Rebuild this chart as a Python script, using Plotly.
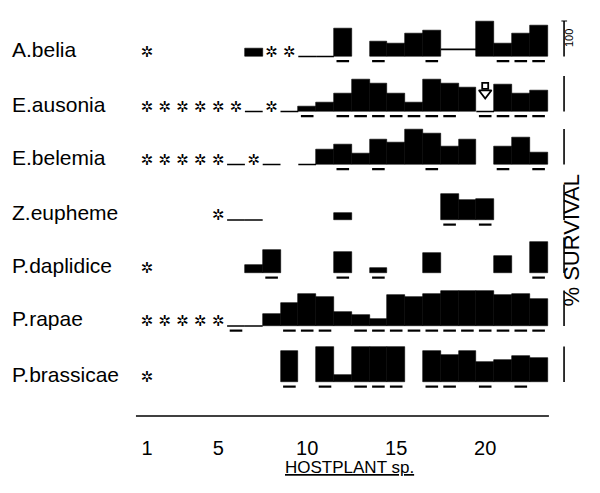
import plotly.graph_objects as go

# ---------------- data ----------------
hostplants = list(range(1, 24))
species = ["A.belia", "E.ausonia", "E.belemia", "Z.eupheme", "P.daplidice", "P.rapae", "P.brassicae"]
x_ticks = [1, 5, 10, 15, 20]

# % survival per hostplant 1..23 (None = not tested / blank, 0 = no survival)
abelia = [None, None, None, None, None, None, 22, None, None, 0, 0, 80, None, 43, 38, 64, 73, None, None, 100, 36, 64, 86]
eausonia = [None] * 6 + [0, None, 0, 14, 24, 52, 89, 79, 50, 24, 89, 79, 67, 0, 76, 50, 60]
ebelemia = [None] * 5 + [0, None, 0, None, 0, 43, 55, 31, 71, 62, 100, 87, 52, 71, None, 50, 77, 34]
zeupheme = [None] * 5 + [0, 0, None, None, None, None, 21, None, None, None, None, None, 74, 55, 59, None, None, None]
pdaplidice = [None] * 6 + [22, 65, None, None, None, 60, None, 15, None, None, 55, None, None, None, 48, None, 86]
prapae = [None] * 5 + [0, 0, 33, 65, 89, 83, 40, 31, 20, 86, 83, 89, 100, 100, 100, 86, 89, 77]
pbrassicae = [None] * 8 + [86, None, 100, 19, 98, 100, 98, None, 86, 76, 86, 57, 62, 73, 67]

# hostplants marked with an asterisk
abelia_stars = [1, 8, 9]
eausonia_stars = [1, 2, 3, 4, 5, 6, 8]
ebelemia_stars = [1, 2, 3, 4, 5, 7]
zeupheme_stars = [5]
pdaplidice_stars = [1]
prapae_stars = [1, 2, 3, 4, 5]
pbrassicae_stars = [1]

# hostplants underlined with a dash
abelia_dash = [12, 14, 17, 21, 22, 23]
eausonia_dash = [10, 12, 13, 14, 15, 16, 17, 18, 20, 21, 22, 23]
ebelemia_dash = [12, 14, 17, 21, 23]
zeupheme_dash = [18, 20]
pdaplidice_dash = [8, 12, 14, 23]
prapae_dash = [6, 9, 10, 11, 13, 14, 15, 16, 17, 18, 19, 20, 21, 22, 23]
pbrassicae_dash = [9, 11, 13, 14, 15, 17, 18, 20, 22]

# A.belia outline-only level on hostplants 18-19
abelia_open_x = [18, 19]
abelia_open_level = 20
# E.ausonia arrow marker
eausonia_arrow_x = [20]
eausonia_arrow_level = 52

rows = [
    (abelia, abelia_stars, abelia_dash),
    (eausonia, eausonia_stars, eausonia_dash),
    (ebelemia, ebelemia_stars, ebelemia_dash),
    (zeupheme, zeupheme_stars, zeupheme_dash),
    (pdaplidice, pdaplidice_stars, pdaplidice_dash),
    (prapae, prapae_stars, prapae_dash),
    (pbrassicae, pbrassicae_stars, pbrassicae_dash),
]

# ---------------- layout geometry ----------------
W, H = 600, 493
baselines = [56.5, 111.5, 164.5, 220, 273, 326, 382]
PX100 = 35.5          # pixels for 100 %
BELOW, ABOVE = 10, 43  # pixels of each row band
FONT = "Liberation Sans, Arial, sans-serif"

fig = go.Figure()
layout_axes = {}

for i, (vals, stars, dashes) in enumerate(rows):
    yname = "y" if i == 0 else f"y{i+1}"
    lname = "yaxis" if i == 0 else f"yaxis{i+1}"
    b = baselines[i]
    layout_axes[lname] = dict(
        domain=[1 - (b + BELOW) / H, 1 - (b - ABOVE) / H],
        range=[-BELOW / PX100 * 100, ABOVE / PX100 * 100],
        visible=False, fixedrange=True,
    )
    bx = [h for h, v in zip(hostplants, vals) if v]
    by = [v for v in vals if v]
    fig.add_trace(go.Bar(x=bx, y=by, width=1, xaxis="x", yaxis=yname,
                         marker=dict(color="black", line=dict(color="black", width=0.6)),
                         showlegend=False, hoverinfo="x+y"))
    # zero-survival segments
    zx, zy = [], []
    for h, v in zip(hostplants, vals):
        if v == 0:
            zx += [h - 0.5, h + 0.5, None]
            zy += [0, 0, None]
    if zx:
        fig.add_trace(go.Scatter(x=zx, y=zy, mode="lines", xaxis="x", yaxis=yname,
                                 line=dict(color="black", width=1.5), showlegend=False))
    # asterisks
    fig.add_trace(go.Scatter(x=stars, y=[10] * len(stars), mode="text", text=["✲"] * len(stars),
                             textfont=dict(size=15, color="black", family="DejaVu Sans"),
                             xaxis="x", yaxis=yname, showlegend=False))
    # dashes
    fig.add_trace(go.Scatter(x=dashes, y=[-13] * len(dashes), mode="markers",
                             marker=dict(symbol="line-ew", size=9, line=dict(color="black", width=2.2)),
                             xaxis="x", yaxis=yname, showlegend=False))
    # 100 % scale bar
    fig.add_trace(go.Scatter(x=[24.43, 24.43], y=[0, 100], mode="lines", xaxis="x", yaxis=yname,
                             line=dict(color="black", width=1.6), showlegend=False))
    # species label
    fig.add_annotation(x=0.0167, xref="paper", y=20, yref=yname, text=species[i],
                       showarrow=False, xanchor="left", yanchor="middle",
                       font=dict(size=21, family=FONT, color="black"))

# A.belia outline level
ox, oy = [], []
for h in abelia_open_x:
    ox += [h - 0.5, h + 0.5]
    oy += [abelia_open_level, abelia_open_level]
fig.add_trace(go.Scatter(x=ox, y=oy, mode="lines", xaxis="x", yaxis="y",
                         line=dict(color="black", width=1.8), showlegend=False))
# top tick of first scale bar
fig.add_trace(go.Scatter(x=[24.28, 24.6], y=[100, 100], mode="lines", xaxis="x", yaxis="y",
                         line=dict(color="black", width=1.2), showlegend=False))
# E.ausonia open arrow: stem + head
fig.add_trace(go.Scatter(x=eausonia_arrow_x, y=[eausonia_arrow_level + 20] * len(eausonia_arrow_x),
                         mode="markers",
                         marker=dict(symbol="square-open", size=6, color="black", line=dict(width=1.8)),
                         xaxis="x", yaxis="y2", showlegend=False))
fig.add_trace(go.Scatter(x=eausonia_arrow_x, y=[eausonia_arrow_level] * len(eausonia_arrow_x),
                         mode="markers",
                         marker=dict(symbol="triangle-down", size=11, color="white",
                                     line=dict(width=1.8, color="black")),
                         xaxis="x", yaxis="y2", showlegend=False))

# horizontal axis line
fig.add_shape(type="line", xref="x", yref="paper", x0=0.38, x1=23.58,
              y0=1 - 416 / H, y1=1 - 416 / H, line=dict(color="black", width=1.5))

fig.add_annotation(x=349 / W, y=1 - 479 / H, xref="paper", yref="paper",
                   text="<u>HOSTPLANT sp.</u>", showarrow=False,
                   font=dict(size=17, family=FONT, color="black"))
fig.add_annotation(x=585 / W, y=1 - 241 / H, xref="paper", yref="paper",
                   text="% SURVIVAL", textangle=-90, showarrow=False,
                   font=dict(size=22, family=FONT, color="black"))
fig.add_annotation(x=577 / W, y=1 - 27 / H, xref="paper", yref="paper",
                   text="100", textangle=-90, showarrow=False,
                   font=dict(size=11, family=FONT, color="black"))

fig.update_layout(
    width=W, height=H, margin=dict(l=0, r=0, t=0, b=0),
    paper_bgcolor="white", plot_bgcolor="white",
    bargap=0, showlegend=False,
    xaxis=dict(range=[1 - 147 / 17.8, 1 + 453 / 17.8], domain=[0, 1], anchor="free",
               position=1 - 434 / H, tickvals=x_ticks, ticks="", showgrid=False,
               zeroline=False, showline=False, fixedrange=True,
               tickfont=dict(size=20, family=FONT, color="black")),
    **layout_axes,
)

fig.write_html("out.html")
